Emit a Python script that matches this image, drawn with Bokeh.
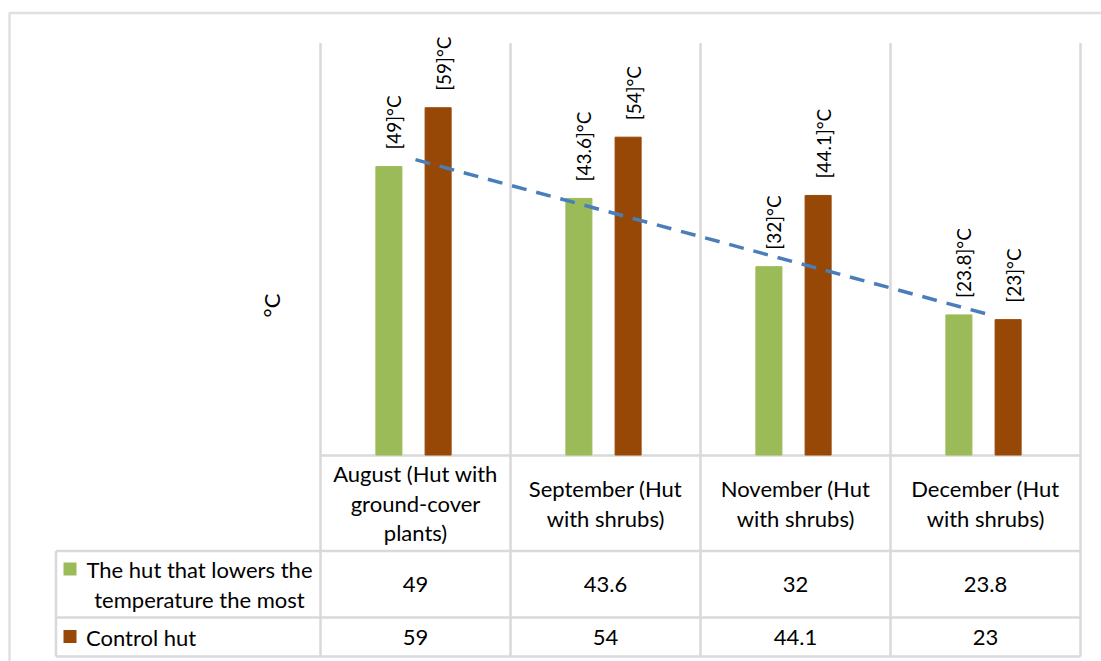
import numpy as np
from bokeh.plotting import figure
from bokeh.models import ColumnDataSource, Range1d
from bokeh.core.properties import value
from bokeh.embed import file_html
from bokeh.resources import INLINE

# ---- data -------------------------------------------------------------
categories = [
    "August (Hut with\nground-cover\nplants)",
    "September (Hut\nwith shrubs)",
    "November (Hut\nwith shrubs)",
    "December (Hut\nwith shrubs)",
]
series_names = ["The hut that lowers the\ntemperature the most", "Control hut"]
lowest_hut = [49, 43.6, 32, 23.8]
control_hut = [59, 54, 44.1, 23]
series_colors = ["#9bbb59", "#974706"]
axis_title = "°C"
y_max = 70

# ---- layout (canvas pixels) -------------------------------------------
W, H = 1101, 661
L, R, T, B = 320, 1080, 42.5, 454.5          # value area
ROW_LINES = [455, 550.5, 617, 656]           # data table rule positions
TABLE_LEFT = 55.5
FONT = value("Lato")
TXT = "#000000"
RULE = "#d9d9d9"
TABLE_SIZE = "22px"
LINE_H = 1.1

n = len(categories)
px_x = (R - L) / n
px_y = (B - T) / y_max


def xd(px):
    return (px - L) / px_x


def yd(py):
    return (B - py) / px_y


p = figure(width=W, height=H, x_range=Range1d(xd(0), xd(W)),
           y_range=Range1d(yd(H), yd(0)), output_backend="svg",
           toolbar_location=None, min_border=0, outline_line_color=None,
           x_axis_location=None, y_axis_location=None)
p.grid.visible = False
p.background_fill_color = "white"
p.border_fill_color = "white"

# chart frame (top / left edges)
p.line(x=[xd(9), xd(9), xd(W + 5)], y=[yd(H + 5), yd(12.5), yd(12.5)],
       line_color="#e0e0e0", line_width=2.5)

# vertical rules: category separators running through the table
for k in range(n + 1):
    p.segment(x0=k, y0=yd(T), x1=k, y1=yd(ROW_LINES[-1]),
              line_color=RULE, line_width=2.5)
p.segment(x0=xd(TABLE_LEFT), y0=yd(ROW_LINES[1]), x1=xd(TABLE_LEFT),
          y1=yd(ROW_LINES[-1]), line_color=RULE, line_width=2.5)
# horizontal rules
p.segment(x0=0, y0=yd(ROW_LINES[0]), x1=n, y1=yd(ROW_LINES[0]),
          line_color=RULE, line_width=2.5)
for ry in ROW_LINES[1:]:
    p.segment(x0=xd(TABLE_LEFT), y0=yd(ry), x1=n, y1=yd(ry),
              line_color=RULE, line_width=2.5)

# ---- bars ---------------------------------------------------------------
idx = np.arange(n)
offsets = [0.36, 0.619]
bar_w = 0.137
for vals, off, col in zip([lowest_hut, control_hut], offsets, series_colors):
    src = ColumnDataSource(dict(x=idx + off, top=vals,
                                lab=[f"[{v:g}]{axis_title}" for v in vals],
                                ly=np.array(vals) + 17 / px_y))
    p.vbar(x="x", top="top", bottom=0, width=bar_w, source=src,
           fill_color=col, line_color=col)
    p.text(x="x", y="ly", text="lab", source=src, angle=np.pi / 2,
           text_align="left", text_baseline="middle", x_offset=5,
           text_font=FONT, text_font_size="19px", text_color=TXT)

# linear trend of the first series
coef = np.polyfit(idx + 1, lowest_hut, 1)
tx = np.array([0.5, n - 0.5])
p.line(x=tx, y=np.polyval(coef, tx + 0.5), line_color="#4a7ebb",
       line_width=3.5, line_dash="15 10")

# axis title
p.text(x=[xd(271)], y=[yd(305)], text=[axis_title], angle=np.pi / 2,
       text_align="center", text_baseline="middle", text_font=FONT,
       text_font_size="22px", text_color=TXT)

# ---- data table -----------------------------------------------------------
p.text(x=idx + 0.5, y=[yd((ROW_LINES[0] + ROW_LINES[1]) / 2)] * n,
       text=categories, text_align="center", text_baseline="middle",
       text_font=FONT, text_font_size=TABLE_SIZE, text_color=TXT,
       text_line_height=LINE_H)
for r, vals in enumerate([lowest_hut, control_hut]):
    cy = yd((ROW_LINES[r + 1] + ROW_LINES[r + 2]) / 2)
    p.text(x=idx + 0.5, y=[cy] * n, text=[f"{v:g}" for v in vals],
           text_align="center", text_baseline="middle", text_font=FONT,
           text_font_size=TABLE_SIZE, text_color=TXT)

# legend keys and series names
key_y = [568.5, 636]
p.rect(x=[xd(69.5)] * 2, y=[yd(k) for k in key_y], width=13, height=13,
       width_units="screen", height_units="screen",
       fill_color=series_colors, line_color=None)
p.text(x=[xd(199)], y=[yd((ROW_LINES[1] + ROW_LINES[2]) / 2)],
       text=[series_names[0]], text_align="center", text_baseline="middle",
       text_font=FONT, text_font_size=TABLE_SIZE, text_color=TXT,
       text_line_height=LINE_H)
p.text(x=[xd(85.5)], y=[yd((ROW_LINES[2] + ROW_LINES[3]) / 2)],
       text=[series_names[1]], text_align="left", text_baseline="middle",
       text_font=FONT, text_font_size=TABLE_SIZE, text_color=TXT)

open("out.html", "w").write(file_html(p, INLINE))
